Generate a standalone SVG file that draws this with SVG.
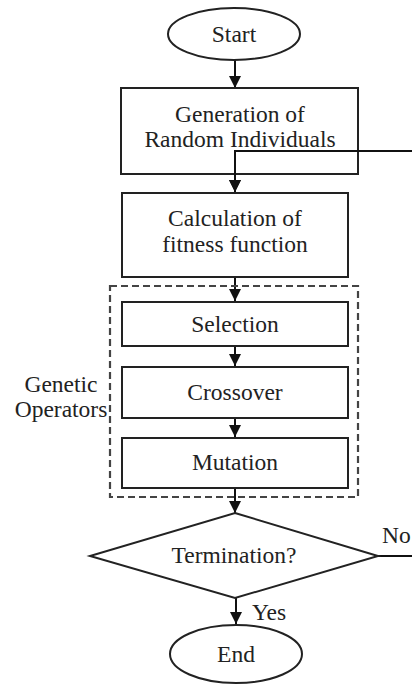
<svg xmlns="http://www.w3.org/2000/svg" width="412" height="684" viewBox="0 0 412 684">
<style>
.s{fill:#fff;stroke:#222;stroke-width:2}
.d{fill:none;stroke:#444;stroke-width:2.2;stroke-dasharray:7,4}
.t{font-family:'Liberation Serif','Times New Roman','DejaVu Serif',serif;font-size:23.5px;fill:#222;text-anchor:middle}
.l{font-family:'Liberation Serif','Times New Roman','DejaVu Serif',serif;font-size:23.5px;fill:#222}
.c{fill:none;stroke:#111;stroke-width:2}
</style>
<defs>
<marker id="a" markerUnits="userSpaceOnUse" markerWidth="14" markerHeight="14" viewBox="0 0 14 14" refX="12" refY="7" orient="auto">
<path d="M0,1 L12,7 L0,13 Z" fill="#111"/>
</marker>
</defs>
<rect width="412" height="684" fill="#fff"/>
<g id="connectors">
<line class="c" x1="235" y1="60" x2="235" y2="88" marker-end="url(#a)"/>
<line class="c" x1="235" y1="174" x2="235" y2="192" marker-end="url(#a)"/>
<line class="c" x1="235" y1="277" x2="235" y2="301" marker-end="url(#a)"/>
<line class="c" x1="235" y1="346" x2="235" y2="366" marker-end="url(#a)"/>
<line class="c" x1="235" y1="418" x2="235" y2="437" marker-end="url(#a)"/>
<line class="c" x1="235" y1="488" x2="235" y2="513" marker-end="url(#a)"/>
<line class="c" x1="236" y1="598" x2="236" y2="624" marker-end="url(#a)"/>
<line class="c" x1="378" y1="556" x2="412" y2="556"/>
<text class="l" x="382" y="543">No</text>
<text class="l" x="252" y="620">Yes</text>
</g>
<g id="group-genetic">
<rect class="d" x="110" y="286" width="248" height="211"/>
<text class="t" x="61" y="392">Genetic</text>
<text class="t" x="61" y="417">Operators</text>
</g>
<g id="start">
<ellipse class="s" cx="234" cy="34" rx="66" ry="26"/>
<text class="t" x="234" y="42">Start</text>
</g>
<g id="generation">
<rect class="s" x="121" y="88" width="237" height="86"/>
<text class="t" x="240" y="122">Generation of</text>
<text class="t" x="240" y="147">Random Individuals</text>
</g>
<g id="feedback">
<polyline class="c" points="412,151 235,151 235,192" marker-end="url(#a)"/>
</g>
<g id="calculation">
<rect class="s" x="122" y="193" width="226" height="84"/>
<text class="t" x="235" y="226">Calculation of</text>
<text class="t" x="235" y="252">fitness function</text>
</g>
<g id="selection">
<rect class="s" x="122" y="302" width="226" height="44"/>
<text class="t" x="235" y="332">Selection</text>
</g>
<g id="crossover">
<rect class="s" x="122" y="367" width="226" height="51"/>
<text class="t" x="235" y="400">Crossover</text>
</g>
<g id="mutation">
<rect class="s" x="122" y="438" width="226" height="50"/>
<text class="t" x="235" y="470">Mutation</text>
</g>
<g id="termination">
<polygon class="s" points="235,513 378,556 235,598 90,556"/>
<text class="t" x="234" y="563">Termination?</text>
</g>
<g id="end">
<ellipse class="s" cx="236" cy="654" rx="66" ry="29"/>
<text class="t" x="236" y="662">End</text>
</g>
</svg>
